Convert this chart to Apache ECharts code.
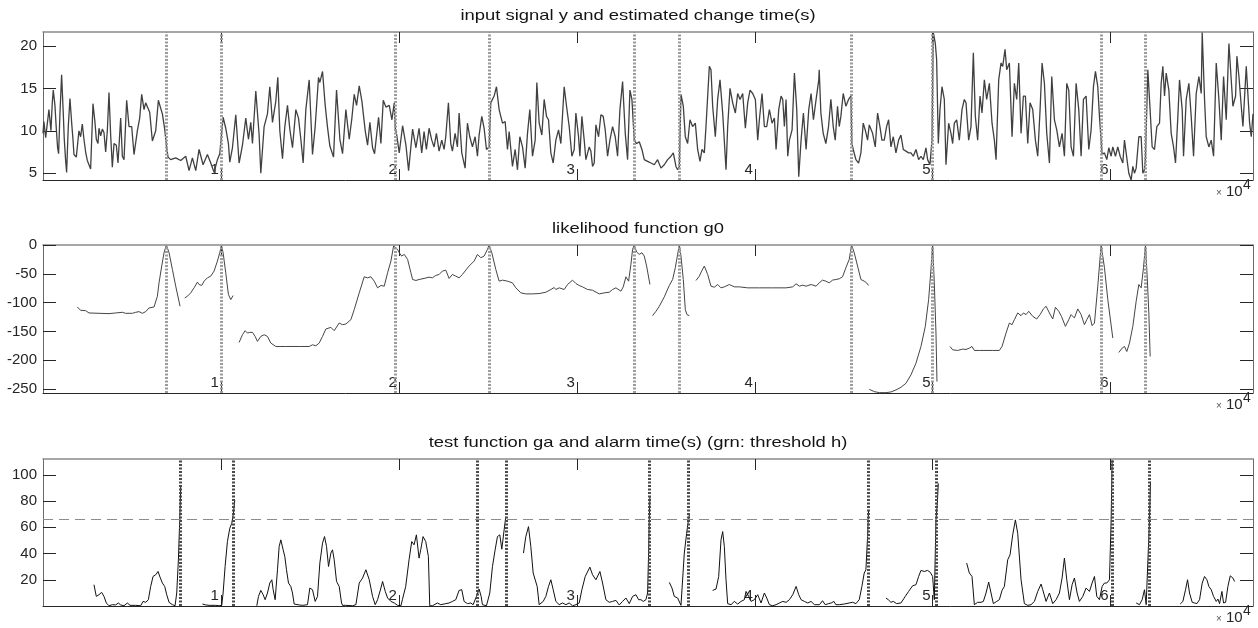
<!DOCTYPE html>
<html>
<head>
<meta charset="utf-8">
<script src="https://cdn.jsdelivr.net/npm/echarts@6/dist/echarts.min.js"></script>
<style>
  html, body { margin: 0; padding: 0; background: #fff; }
  #chart { width: 1258px; height: 628px; }
</style>
</head>
<body>
<div id="chart"></div>
<script>
// estimated change times (grey dotted) and alarm times (dark dotted), in samples
var changeTimes = [6930, 10030, 19800, 25070, 33230, 35760, 45440, 50000, 59460, 61960];
var alarmTimes = [7700, 10690, 24410, 26010, 34090, 36280, 46380, 50220, 60090, 62180];
var threshold = 66;

var xTicks = [10000, 20000, 30000, 40000, 50000, 60000];
var yTicks1 = [5, 10, 15, 20];
var yTicks2 = [-250, -200, -150, -100, -50, 0];
var yTicks3 = [20, 40, 60, 80, 100];

var titles = [
  'input signal y and estimated change time(s)',
  'likelihood function g0',
  'test function ga and alarm time(s) (grn: threshold h)'
];

// input signal y  [sample, value]
var signalY = [
  [0,9.7],[50,11.1],[150,9.2],[240,9.1],[334,12.5],[446,10.0],[521,13.3],[577,14.8],[671,13.0],[746,10.3],
  [821,8.0],[877,7.3],[952,12],[1046,16.6],[1140,12],[1196,9],[1271,6.5],[1327,5.1],[1421,10.5],[1515,13.8],
  [1609,11],[1684,9],[1740,7.2],[1871,6.9],[2021,10],[2115,9.3],[2209,10.8],[2302,9],[2396,7.5],[2490,6.5],
  [2677,5.5],[2809,13.2],[2921,11],[2996,9],[3090,8.5],[3146,10.3],[3240,9.4],[3334,10.2],[3427,9.8],[3521,7.5],
  [3615,10],[3709,14.5],[3802,9.5],[3896,5.7],[3990,8.5],[4121,8.3],[4215,6.2],[4365,11.5],[4459,7],[4552,6.6],
  [4702,13.6],[4834,10.5],[4984,10.5],[5115,7.2],[5302,10],[5434,11.5],[5546,14.3],[5677,12.5],[5771,13.3],[5865,13.5],
  [5996,12.2],[6146,8.8],[6334,10],[6484,13.6],[6596,12.8],[6709,12],[6840,10.2],[6952,8],[7027,6.9],
  [7177,6.6],[7459,6.8],[7740,6.5],[8021,7],[8209,5.3],[8396,6.8],[8584,5.3],[8771,7.8],[8996,6],[9240,7.2],
  [9427,6.2],[9615,5.1],[9802,6.6],[9934,7.3],[10121,11.6],[10271,10.3],[10421,8.5],[10496,6.3],[10646,8],[10834,11.9],
  [11021,6.2],[11209,8.3],[11396,11.5],[11546,9],[11677,11],[11771,8.5],[11959,14.7],[12146,9.5],[12240,5],[12427,10.5],
  [12615,12],[12746,15.2],[12896,11],[13084,13.5],[13196,16.3],[13309,10],[13459,6.7],[13590,10.5],[13740,13],[13871,10.2],
  [14021,8],[14209,12.5],[14359,11.5],[14490,9],[14621,6.2],[14771,12.5],[14959,16],[15146,7.2],[15296,10.5],[15484,16.3],
  [15559,15.7],[15709,17],[15859,13],[15990,10.4],[16121,8.2],[16327,6.9],[16496,14.8],[16684,9],[16834,7.3],[17021,12.5],
  [17209,9],[17359,11.5],[17490,14.3],[17621,13],[17771,15.3],[17921,13.5],[18109,10],[18240,8.3],[18371,11],[18521,8],
  [18634,7.3],[18859,11.6],[18990,8.5],[19121,13.6],[19271,12.8],[19459,13],[19609,11.3],[19740,13.3],[19796,10.3],[19871,9.6],
  [20021,7.4],[20209,10.6],[20396,8.3],[20546,5.3],[20771,10.2],[20959,8],
  [21134,10.3],[21284,7.4],[21415,9.9],[21547,7.8],[21697,10.3],[21847,8.9],[21978,8.1],[22109,9.7],[22259,7.6],[22409,8.9],
  [22540,7.8],[22634,9.3],[22784,13.3],[22915,8.5],[23009,7.6],[23159,9.7],[23290,8.1],[23384,12.1],[23534,7.4],[23722,5.6],
  [23853,10.9],[23984,9.3],[24134,8.1],[24284,9.3],[24415,7],[24509,9.5],[24659,11.7],[24790,10.3],[24922,7.8],[25072,8.1],
  [25165,13.3],[25353,14.1],[25484,15.2],[25634,12.5],[25822,10.9],[25972,11.1],[26103,7.8],[26197,9.9],[26384,5.8],[26534,7.8],
  [26665,5.4],[26797,9.3],[26947,8.1],[27097,5.6],[27228,9.7],[27359,12.5],[27509,7],[27659,8.9],[27753,15.7],[27884,10.9],
  [28034,9.5],[28165,13.7],[28297,11.7],[28409,11.3],[28540,7.4],[28672,6.2],[28822,8.9],[28972,10.1],[29103,8.5],[29290,15.2],
  [29422,12.9],[29572,10.5],[29722,7],[29853,7.8],[29947,12.1],[30097,9.3],[30172,7],[30284,11.7],[30415,8.9],[30509,6.6],
  [30697,8.1],[30790,7.6],[30884,5.8],[30978,6.2],[31072,10.7],[31222,9.3],[31353,11.9],[31484,11.7],[31597,10.1],[31728,7],
  [31859,8.9],[32009,10.5],[32159,9.3],[32290,7],[32422,12.5],[32572,15.8],[32722,9.7],[32853,6.6],[32984,14.8],[33097,13.7],
  [33228,8.9],[33359,8.5],[33509,8.7],[33659,7.8],[33790,6.6],[33978,6.4],[34165,6.2],[34353,6],[34540,6.6],[34728,5.6],
  [34915,6],[35103,6.6],[35290,7],[35422,7.4],[35572,5.8],[35665,5.4],[35759,5.8],[35853,14.3],[35984,12.9],[36097,9.3],
  [36228,8.5],[36359,11.3],[36509,10.5],[36659,10.9],[36790,7.8],[36922,6.4],[37034,7.8],[37165,7.4],[37259,10.5],[37447,17.6],
  [37540,17.2],[37634,12.9],[37784,9.3],[37915,13.7],[38047,16],[38197,12.1],[38384,5.4],[38478,10.5],[38609,15],[38759,13.3],
  [38909,12.1],[39040,14.4],[39172,13.7],[39322,14.4],[39472,10.3],[39603,13.3],[39734,14.8],[39884,14.4],[40034,13.7],[40165,8.9],
  [40259,11.3],[40409,14.4],[40540,10.5],[40672,10.5],[40822,12.5],[40972,10.9],[41103,11.5],[41197,7.8],[41347,12.5],[41478,14.1],
  [41572,13.7],[41665,10.5],[41759,13.7],[41853,7],[41947,8.9],[42097,10.1],[42228,16.8],[42359,12.5],[42472,4.6],[42603,8.9],
  [42734,12.1],[42884,7.8],[43034,12.5],[43165,14.4],[43297,11.3],[43447,13.7],[43597,16],
  [43621,17.2],[43715,12.1],[43846,9.7],[43996,8.5],[44146,10.5],[44277,13.7],[44409,10.5],[44521,8.9],[44652,12.9],[44746,10.5],
  [44840,11.7],[44971,14.4],[45121,12.9],[45271,13.7],[45402,14.1],[45459,8.5],[45534,7.8],[45684,6.6],[45834,6.2],[45965,7.4],
  [46096,10.9],[46209,10.1],[46340,8.9],[46434,10.7],[46527,10.9],[46621,9.7],[46771,8.1],[46902,12.1],[47034,10.5],[47146,8.9],
  [47277,8.9],[47409,10.5],[47521,11.3],[47652,8.1],[47784,9.3],[47934,7.4],[48084,8.9],[48215,9.5],[48346,7.8],[48496,7.6],
  [48646,7.4],[48777,7.4],[48909,7],[49059,7.8],[49209,6.6],[49340,7],[49471,6.6],[49621,8],[49715,6.6],[49846,6],
  [49959,8.9],[50034,21.6],[50146,20.3],[50221,18.4],[50315,8.5],[50409,12.5],[50521,15.2],[50652,13.7],[50746,6],[50896,10.9],
  [51027,9.7],[51121,8.5],[51215,10.9],[51346,11.3],[51496,8.9],[51646,12.5],[51777,13.7],[51871,13.3],[52021,8.9],[52152,10.5],
  [52284,19.2],[52396,11.7],[52527,8.9],[52659,14.1],[52771,12.1],[52902,16],[53034,13.7],[53184,15.6],[53334,10.9],[53465,8.9],
  [53559,6.6],[53709,16],[53840,18],[53934,17.6],[54065,19.6],[54159,17.2],[54309,18],[54459,9.3],[54590,15.6],[54721,13.7],
  [54834,18],[54965,9.7],[55096,14.1],[55209,14.1],[55340,8.5],[55471,13.3],[55621,12.5],[55771,8.9],[55902,7],[56034,12.5],
  [56146,18],[56277,15.6],[56409,9.7],[56559,6.2],[56690,16.4],[56840,11.3],[56971,10.1],[57121,8.1],[57271,9.7],[57402,7],
  [57534,15.6],[57646,14.8],[57777,8.1],[57909,7],[58059,15.6],[58209,12.5],[58340,7],[58471,13.7],[58621,14.1],[58771,7.8],
  [58902,10.1],[59034,15.2],[59146,17],[59277,15.2],[59371,11.7],[59521,7.2],[59652,7.4],[59784,6.6],[59896,8],[60027,7],
  [60121,8.1],[60271,7],[60402,8.1],[60534,7],[60684,6.2],[60777,8.9],[60871,7.4],[61021,5],[61152,4.2],[61246,5.8],
  [61340,5],[61434,5.6],[61584,9.3],[61715,9.3],[61809,5],[61902,5.4],[61959,7],[62090,17.2],[62184,13.7],[62334,8.1],
  [62465,7.8],[62596,10.5],[62746,10.9],[62840,15.6],[62934,17.6],[63027,14.1],[63121,16.8],[63271,14.8],[63402,9.7],[63534,8.1],
  [63646,6.2],[63777,11.7],[63871,16],[64021,12.5],[64096,7],[64246,13.7],[64396,15.6],[64527,11.7],[64659,7],[64809,14.4],
  [64959,16.4],[65090,14.4],[65146,21.6],[65277,13.7],[65371,9.3],[65521,8.1],[65652,8.9],[65784,7],[65934,18],[66084,13.7],
  [66215,8.9],[66346,16.4],[66496,11.3],[66646,20.3],[66777,16],[66871,12.9],[67021,14.1],[67096,18.8],[67209,16.4],[67340,12.9],
  [67434,10.5],[67621,17.6],[67809,10.9],[67902,9.3],[68000,12]
];

// likelihood function g0, one list per drawn piece
var g0Pieces = [
  [[1927,-107.6],[2115,-113.4],[2396,-114],[2584,-118],[3146,-118.6],[3709,-119.2],[4084,-118],[4459,-116.9],[4646,-118.6],[5021,-118.6],
   [5209,-116.9],[5396,-115.7],[5584,-118.6],[5771,-115.7],[5959,-109.3],[6052,-106.4],[6240,-107.6],[6334,-105.2],[6427,-89],[6521,-65.7],
   [6671,-36.6],[6802,-13.4],[6934,0],[7084,-13.4],[7271,-42.4],[7459,-71.5],[7702,-106.4]],
  [[7965,-91.9],[8115,-89],[8302,-83.1],[8490,-74.4],[8677,-64.5],[8771,-68.6],[8921,-70.3],[9052,-62.8],[9240,-57],[9427,-54.1],
   [9615,-45.3],[9802,-27.9],[9934,-13.4],[10027,0],[10121,-13.4],[10271,-48.3],[10421,-86],[10552,-94.8],[10684,-87.8]],
  [[11021,-169.2],[11209,-155.8],[11359,-148.8],[11490,-152.9],[11621,-151.7],[11771,-151.7],[11921,-158.7],[12052,-167.4],[12240,-158.7],[12427,-155.8],
   [12615,-158.7],[12802,-170.3],[13084,-176.2],[13646,-176.2],[14396,-176.2],[14959,-176.2],[15146,-173.3],[15334,-175],[15521,-170.3],[15709,-158.7],
   [15896,-145.9],[16177,-143],[16365,-148.8],[16646,-135.5],[16834,-138.4],[17021,-137.2],[17302,-129.7],[17490,-112.2],[17771,-83.1],[18052,-55.2],
   [18240,-57],[18427,-55.2],[18615,-62.8],[18802,-74.4],[18990,-70.3],[19177,-71.5],[19365,-48.3],[19552,-27.9],[19702,-1.7],[19796,0],
   [19927,-7.6],[20021,-13.4],[20152,-19.2],[20302,-16.3],[20490,-25],[20677,-48.3],[20771,-59.9],[20959,-61.6],[21134,-59.9],[21415,-58.1],
   [21697,-55.8],[21884,-57],[22072,-52.9],[22259,-51.2],[22447,-45.3],[22634,-43.6],[22822,-58.1],[23009,-51.2],[23197,-54.1],[23384,-57],
   [23572,-51.2],[23759,-43.6],[23947,-36.6],[24228,-27.9],[24415,-16.3],[24603,-22.1],[24790,-19.2],[24978,-7.6],[25072,0],[25222,-13.4],
   [25447,-42.4],[25634,-62.8],[25822,-61],[26103,-62.8],[26384,-65.7],[26572,-74.4],[26853,-83.1],[27134,-84.9],[27509,-84.9],[27884,-84.3],
   [28259,-82],[28540,-77.3],[28728,-73.8],[28822,-77.3],[29009,-74.4],[29290,-77.3],[29478,-68.6],[29759,-61],[29947,-66.9],[30134,-70.3],
   [30322,-72.7],[30603,-77.3],[30884,-78.5],[31259,-84.9],[31540,-83.1],[31822,-82],[32009,-77.3],[32197,-74.4],[32478,-80.2],[32609,-72.7],
   [32759,-55.2],[32909,-62.8],[33040,-33.7],[33134,-7.6],[33228,0],[33359,-12.2],[33509,-16.3],[33659,-13.4],[33790,-19.2],[33922,-36.6],
   [34109,-68.6]],
  [[34259,-122.7],[34447,-115.1],[34634,-106.4],[34915,-90.1],[35197,-70.3],[35384,-59.9],[35534,-39.5],[35665,-16.3],[35759,0],[35853,-19.2],
   [35984,-59.9],[36097,-112.2],[36190,-120.9],[36322,-122.7]],
  [[36697,-61.6],[36884,-54.1],[37015,-45.3],[37165,-36.6],[37353,-51.2],[37540,-71.5],[37728,-73.3],[37915,-68.6],[38103,-74.4],[38290,-72.7],
   [38572,-68.6],[38853,-72.7],[39134,-72.7],[39603,-74.4],[40259,-74.4],[41009,-74.4],[41759,-74.4],[42134,-72.7],[42322,-67.4],[42509,-71.5],
   [42697,-69.8],[42884,-71.5],[43165,-68.6],[43447,-71.5],[43621,-65.7],[43809,-61],[43996,-62.8],[44184,-65.7],[44371,-61],[44559,-59.9],
   [44746,-58.7],[44934,-55.2],[45121,-39.5],[45309,-25],[45440,0],[45590,-13.4],[45777,-36.6],[45965,-59.9],[46152,-62.8],[46284,-65.7],
   [46396,-70.3]],
  [[46434,-250.6],[46715,-254.6],[46996,-256.4],[47371,-256.4],[47652,-255.2],[47934,-251.7],[48215,-247.1],[48496,-240.1],[48777,-225.6],[49059,-205.2],
   [49340,-176.2],[49584,-141.3],[49771,-94.8],[49902,-42.4],[49996,0],[50090,-65.7],[50184,-152.9],[50240,-237.2]],
  [[50971,-176.2],[51121,-182],[51402,-183.1],[51684,-180.8],[51871,-181.4],[52059,-179.1],[52209,-176.2],[52340,-183.1],[52621,-183.1],[52996,-183.1],
   [53371,-183.1],[53746,-183.1],[53896,-176.2],[54121,-152.9],[54309,-135.5],[54459,-138.4],[54590,-129.7],[54777,-118],[54965,-122.7],[55096,-118],
   [55246,-120.9],[55396,-115.1],[55621,-123.8],[55846,-128.5],[56034,-120.9],[56221,-111],[56371,-106.4],[56559,-118],[56746,-128.5],[56896,-108.1],
   [57084,-115.1],[57234,-123.8],[57459,-141.3],[57646,-129.7],[57777,-120.9],[57965,-126.7],[58152,-111],[58340,-120.9],[58527,-138.4],[58659,-129.7],
   [58809,-120.9],[58959,-140.1],[59090,-135.5],[59277,-71.5],[59465,0],[59652,-39.5],[59840,-94.8],[60121,-161.6]],
  [[60459,-186.6],[60646,-179.1],[60777,-176.2],[60909,-184.9],[61059,-170.3],[61246,-141.3],[61434,-97.7],[61584,-68.6],[61715,-74.4],[61846,-39.5],
   [61959,0],[62052,-54.1],[62146,-118],[62221,-193.6]]
];

// test function ga, one list per drawn piece
var gaPieces = [
  [[2865,16.2],[2996,7.3],[3146,8.6],[3296,10.4],[3427,7.3],[3559,2.3],[3709,0.2],[3896,1],[4084,0.8],[4234,2.3],
   [4365,0.8],[4552,0.2],[4740,2.3],[4890,0.5],[5209,0.5],[5490,0.2],[5621,3.5],[5771,2.8],[5921,4.8],[6052,14.9],
   [6184,22.5],[6334,23.8],[6465,26.3],[6577,22],[6709,17.5],[6840,14.9],[6952,8.6],[7084,2.8],[7271,1],[7421,0.2],
   [7515,9.9],[7609,35.2],[7684,65.6],[7740,90.9]],
  [[8959,1.5],[9052,2.8],[9146,0.8],[9334,0.5],[9709,0.5],[9896,0.2],[10046,0.5],[10121,9.9],[10234,30.1],[10365,49.1],
   [10496,59.2],[10609,63],[10702,70.6],[10777,80.8]],
  [[12015,0.2],[12109,7.3],[12240,11.9],[12371,8.6],[12484,4.8],[12615,9.9],[12746,17.5],[12859,20],[12934,12.4],[13046,4.8],
   [13177,27.6],[13271,45.3],[13365,50.4],[13496,42.8],[13590,37.7],[13684,27.6],[13796,17.5],[13927,14.9],[14021,9.9],[14115,1.5],
   [14209,0.8],[14396,0.8],[14584,0.5],[14865,1],[14996,13.7],[15146,12.4],[15296,3.5],[15427,7.3],[15559,32.7],[15709,47.9],
   [15821,52.9],[15934,45.3],[16046,30.1],[16177,40.3],[16271,42.8],[16365,35.2],[16496,18.7],[16646,14.9],[16777,2.3],[16834,0.5],
   [17021,0.5],[17396,0.2],[17584,1],[17771,17.5],[17959,21.3],[18146,27.6],[18334,20],[18521,7.3],[18671,1],[18802,4.8],
   [18990,13.7],[19084,18.7],[19234,11.1],[19365,6.1],[19552,3.5],[19740,2.3],[19927,0.5],[20115,0.2],[20197,4.8],[20384,14.9],
   [20572,35.2],[20722,49.1],[20853,46.6],[20984,54.2],[21134,36.5],[21228,42.8],[21359,52.9],[21509,49.1],[21659,37.7],[21734,0.2],
   [21884,0.2],[22165,2.3],[22353,1],[22634,1.8],[22822,2.3],[23009,3.5],[23197,4.8],[23384,11.9],[23534,12.4],[23665,3.5],
   [23853,1.8],[24040,2.3],[24172,1],[24359,7.3],[24509,12.9],[24622,7.3],[24697,1],[24922,0.2],[25109,9.9],[25259,30.1],
   [25409,42.8],[25540,52.9],[25672,54.2],[25784,43.3],[25915,58],[26009,68.1]],
  [[27003,40.3],[27134,52.9],[27284,60.5],[27415,45.3],[27547,25.1],[27659,24.6],[27772,14.9],[27884,1],[27978,0.2],[28109,3.5],
   [28259,7.3],[28409,14.9],[28540,20],[28672,12.4],[28822,3.5],[29009,1],[29197,2.3],[29384,1],[29572,2.3],[29759,0.2],
   [29947,1],[30134,2.3],[30284,12.4],[30472,22.5],[30734,29.6],[30884,23.8],[31072,20],[31297,26.3],[31447,17.5],[31634,4.8],
   [31822,2.8],[32009,3.5],[32197,4.3],[32384,0.8],[32572,3.5],[32759,6.1],[32947,1.8],[33134,7.3],[33322,8.6],[33472,4.8],
   [33603,4.8],[33734,3.5],[33884,4.8],[33978,9.9],[34034,40.3],[34072,65.6],[34109,83.3]],
  [[35197,18],[35347,13.7],[35478,7.3],[35665,6.1],[35853,0.5],[35947,0.2],[36040,40.3],[36172,55.4],[36247,63],[36322,69.4]],
  [[37634,11.9],[37822,12.9],[37972,22.5],[38103,50.4],[38197,56.7],[38290,45.3],[38384,20],[38478,1.8],[38665,1],[38853,3.5],
   [39040,1.5],[39228,3.5],[39415,4.8],[39509,11.1],[39659,7.3],[39790,3.5],[39978,4.8],[40165,8.6],[40353,2.3],[40540,9.9],
   [40672,6.1],[40822,1],[41009,0.2],[41197,1],[41384,2.3],[41572,3.5],[41759,2.8],[41947,4.8],[42134,8.6],[42322,14.9],
   [42472,8.6],[42603,4.8],[42790,3.5],[42978,2.3],[43165,3.5],[43353,1],[43634,1],[43809,4],[43959,1],[44146,1.8],
   [44296,2.3],[44446,3.5],[44559,1],[44746,1],[45027,1.5],[45309,2.3],[45496,2.8],[45684,1.8],[45871,4.8],[46021,14.9],
   [46152,25.1],[46246,27.6],[46340,52.9],[46396,73.2]],
  [[47371,6.1],[47502,4.8],[47652,2.8],[47784,3.5],[47971,1.8],[48215,2.3],[48459,7.3],[48646,11.1],[48871,15.4],[49059,16.2],
   [49209,22.5],[49340,27.1],[49527,26.3],[49715,27.1],[49865,25.6],[49996,22.5],[50090,4.8],[50184,65.6],[50259,78.2],[50315,93.4]],
  [[51909,32.7],[52059,25.1],[52209,22.5],[52340,1],[52527,2.8],[52715,2.8],[52846,3.5],[52996,9.9],[53146,18.2],[53277,9.9],
   [53409,1.8],[53596,3.5],[53746,4.8],[53896,11.9],[54027,14.9],[54215,35.2],[54346,39],[54496,54.2],[54646,65.6],[54777,55.4],
   [54965,20],[55152,1.8],[55340,0.5],[55527,1],[55715,3.5],[55902,11.1],[56090,16.7],[56184,12.4],[56371,3.5],[56559,9.9],
   [56746,1.8],[56934,4.8],[57121,9.9],[57271,21.3],[57402,36.5],[57534,20],[57684,4.8],[57834,16.2],[57965,21.3],[58115,9.9],
   [58246,3.5],[58434,7.3],[58621,13.7],[58809,11.1],[58959,17.5],[59090,22.5],[59221,7.3],[59371,4.8],[59521,14.9],[59652,17.5],
   [59784,17.5],[59934,20],[60027,65.6],[60084,111]],
  [[61434,2.3],[61527,3.5],[61621,1],[61771,4.8],[61902,12.4],[61996,1],[62090,1],[62184,65.6],[62240,94.7]],
  [[63909,1.5],[64059,3.5],[64209,12.4],[64321,20],[64434,9.9],[64584,2.8],[64715,2.3],[64846,1.8],[64996,4.8],[65146,17.5],
   [65277,22.5],[65409,20],[65521,14.9],[65652,12.4],[65784,7.3],[65934,3.5],[66027,5.3],[66121,1.8],[66252,11.1],[66346,2.3],
   [66459,2.8],[66590,14.9],[66721,23],[66871,21.3],[66965,18.7]]
];

var chart = echarts.init(document.getElementById('chart'));

var FONT = '"Liberation Sans", Arial, Helvetica, sans-serif';
var TXT = '#262626';
var X_MAX = 68000;

var grids = [
  {left: 43, right: 5, top: 32, height: 148},
  {left: 43, right: 5, top: 245, height: 148},
  {left: 43, right: 5, top: 459, height: 147}
];
var yRanges = [[4.2, 21.65], [-257, 0], [0, 112]];
var yTickSets = [yTicks1, yTicks2, yTicks3];

var xAxes = [], yAxes = [];
grids.forEach(function (g, i) {
  xAxes.push({
    gridIndex: i, type: 'value', position: 'bottom', min: 0, max: X_MAX,
    axisLine: {show: true, onZero: false, lineStyle: {color: '#262626', width: 1}},
    axisTick: {inside: true, length: 11, customValues: xTicks, lineStyle: {color: '#262626'}},
    axisLabel: {
      inside: true, customValues: xTicks, margin: 3,
      formatter: function (v) { return String(v / 10000); },
      align: 'right', verticalAlign: 'bottom', padding: [0, 2, 0, 0],
      color: TXT, fontSize: 15, fontFamily: FONT
    },
    splitLine: {show: false}
  });
  xAxes.push({
    gridIndex: i, type: 'value', position: 'top', min: 0, max: X_MAX,
    axisLine: {show: true, onZero: false, lineStyle: {color: '#8a8a8a', width: 1.5}},
    axisTick: {inside: true, length: 11, customValues: xTicks, lineStyle: {color: '#262626'}},
    axisLabel: {show: false},
    splitLine: {show: false}
  });
  yAxes.push({
    gridIndex: i, type: 'value', position: 'left', min: yRanges[i][0], max: yRanges[i][1],
    axisLine: {show: true, onZero: false, lineStyle: {color: '#6a6a6a', width: 1}},
    axisTick: {inside: true, length: 13, customValues: yTickSets[i], lineStyle: {color: '#262626'}},
    axisLabel: {customValues: yTickSets[i], margin: 6, color: TXT, fontSize: 15, fontFamily: FONT},
    splitLine: {show: false}
  });
  yAxes.push({
    gridIndex: i, type: 'value', position: 'right', min: yRanges[i][0], max: yRanges[i][1],
    axisLine: {show: true, onZero: false, lineStyle: {color: '#6a6a6a', width: 1}},
    axisTick: {inside: true, length: 13, customValues: yTickSets[i], lineStyle: {color: '#262626'}},
    axisLabel: {show: false},
    splitLine: {show: false}
  });
});

function vLines(times, color) {
  return {
    silent: true, symbol: 'none', animation: false,
    label: {show: false},
    lineStyle: {color: color, width: 3, type: [2, 1.5]},
    data: times.map(function (t) { return {xAxis: t}; })
  };
}

function lineSeries(data, gi, color, width, extra) {
  var s = {
    type: 'line', xAxisIndex: gi * 2, yAxisIndex: gi * 2, data: data,
    showSymbol: false, symbol: 'none', animation: false, silent: true,
    lineStyle: {color: color, width: width}, z: 3
  };
  if (extra) s.markLine = extra;
  return s;
}

var series = [];
series.push(lineSeries(signalY, 0, '#404040', 1.3, vLines(changeTimes, '#9c9c9c')));
g0Pieces.forEach(function (p, k) {
  series.push(lineSeries(p, 1, '#454545', 1, k === 0 ? vLines(changeTimes, '#9c9c9c') : null));
});
gaPieces.forEach(function (p, k) {
  var ml = null;
  if (k === 0) {
    ml = vLines(alarmTimes, '#4a4a4a');
    ml.data = ml.data.concat([{yAxis: threshold, lineStyle: {color: '#8c8c8c', width: 1, type: [10, 6]}}]);
  }
  series.push(lineSeries(p, 2, '#111', 1, ml));
});

var gridBottoms = grids.map(function (g) { return g.top + g.height; });
var titleCenters = [16, 229, 443];

var graphics = [];
titles.forEach(function (t, i) {
  graphics.push({
    type: 'text', x: 638, y: titleCenters[i], scaleX: 1.27, silent: true,
    style: {
      text: t, fontSize: 14.5, fontFamily: FONT, fill: '#141414',
      textAlign: 'center', textVerticalAlign: 'middle'
    }
  });
});
gridBottoms.forEach(function (b) {
  graphics.push({
    type: 'text', x: 1219, y: b + 13, silent: true,
    style: {text: '\u00d7', fontSize: 10, fontFamily: FONT, fill: '#555', textAlign: 'center', textVerticalAlign: 'middle'}
  });
  graphics.push({
    type: 'text', x: 1226, y: b + 12, silent: true,
    style: {text: '10', fontSize: 15, fontFamily: FONT, fill: TXT, textAlign: 'left', textVerticalAlign: 'middle'}
  });
  graphics.push({
    type: 'text', x: 1243, y: b + 5, silent: true,
    style: {text: '4', fontSize: 14, fontFamily: FONT, fill: TXT, textAlign: 'left', textVerticalAlign: 'middle'}
  });
});

chart.setOption({
  backgroundColor: '#fff',
  animation: false,
  grid: grids,
  xAxis: xAxes,
  yAxis: yAxes,
  series: series,
  graphic: graphics
});
</script>
</body>
</html>
